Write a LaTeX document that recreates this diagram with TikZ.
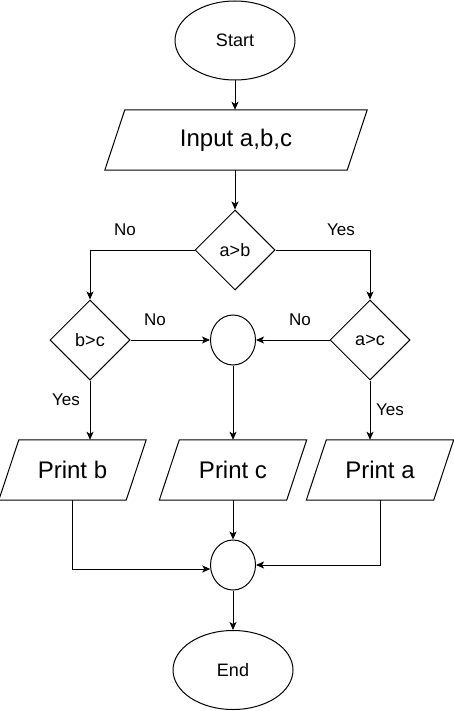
\documentclass[tikz,border=0pt]{standalone}
\usepackage{fontspec}
\setmainfont{Liberation Sans}
\usetikzlibrary{shapes.geometric,arrows.meta}
\newcommand{\drawpara}[1]{\draw[line width=1pt] ([xshift=10pt]#1.north west) -- ([xshift=10pt]#1.north east) -- ([xshift=-10pt]#1.south east) -- ([xshift=-10pt]#1.south west) -- cycle;}
\begin{document}
\begin{tikzpicture}[x=1pt,y=-1pt,
  every node/.style={inner sep=0pt},
  term/.style={ellipse,draw,line width=1pt,minimum width=120pt,minimum height=79pt,font=\fontsize{18}{20}\selectfont},
  dec/.style={diamond,draw,line width=1pt,minimum width=80pt,minimum height=80pt,aspect=1,font=\fontsize{18}{20}\selectfont},
  joinpt/.style={ellipse,draw,line width=1pt,minimum width=45pt,minimum height=50pt},
  io/.style={rectangle,minimum width=127pt,minimum height=60pt,font=\fontsize{24}{28}\selectfont},
  lbl/.style={font=\fontsize{17}{20}\selectfont},
  arr/.style={line width=1pt,-{Stealth[length=8pt,width=7pt,inset=2pt]}}]
\useasboundingbox (0,0) rectangle (454,711);
\node[term] (start) at (235,40.5) {Start};
\node[io,minimum width=242pt] (in) at (236,140) {Input a,b,c};
\drawpara{in}
\node[dec] (ab) at (235,250) {a>b};
\node[dec] (bc) at (90,340) {b>c};
\node[dec] (ac) at (370,340) {a>c};
\node[joinpt] (m1) at (233,340) {};
\node[io] (pb) at (72.5,470) {Print b};
\node[io] (pc) at (233,470) {Print c};
\node[io] (pa) at (380,470) {Print a};
\drawpara{pb}
\drawpara{pc}
\drawpara{pa}
\node[joinpt] (m2) at (233,565) {};
\node[term] (end) at (233,670) {End};
\draw[arr] (start.south) -- (start.south |- in.north);
\draw[arr] (in.south -| ab.north) -- (ab.north);
\draw[arr] (ab.west) -| (bc.north);
\draw[arr] (ab.east) -| (ac.north);
\draw[arr] (bc.east) -- (m1.west);
\draw[arr] (ac.west) -- (m1.east);
\draw[arr] (bc.south) -- (bc.south |- pb.north);
\draw[arr] (ac.south) -- (ac.south |- pa.north);
\draw[arr] (m1.south) -- (pc.north);
\draw[arr] (pb.south) |- (m2.190);
\draw[arr] (pa.south) |- (m2.east);
\draw[arr] (pc.south) -- (m2.north);
\draw[arr] (m2.south) -- (end.north);
\node[lbl] (l1) at (125,230) {No};
\node[lbl] (l2) at (341,230) {Yes};
\node[lbl] (l3) at (155,320) {No};
\node[lbl] (l4) at (300,320) {No};
\node[lbl] (l5) at (66,400) {Yes};
\node[lbl] (l6) at (390,410) {Yes};
\end{tikzpicture}
\end{document}
